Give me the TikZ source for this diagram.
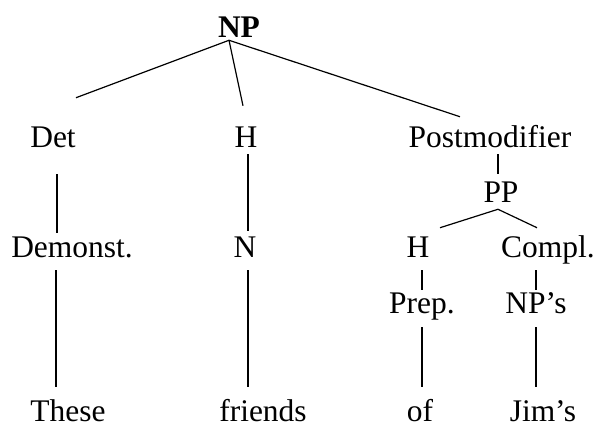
\documentclass[tikz,border=0pt]{standalone}
\usepackage{fontspec}
\setmainfont{Liberation Serif}
\usetikzlibrary{calc}

\tikzset{
  lbl/.style={anchor=base, inner sep=0pt, text height=15.75pt, text depth=5.25pt,
    font=\fontsize{23.6}{28}\selectfont},
  branch/.style={line width=0.9pt}
}

\begin{document}
\begin{tikzpicture}[x=0.75pt,y=-0.75pt]
\useasboundingbox (0,0) rectangle (597,426);
\node[lbl,font=\fontsize{23.6}{28}\selectfont\bfseries] (np) at (239,37) {NP};
\node[lbl] (det) at (53,147) {Det};
\node[lbl] (head) at (246,147) {H};
\node[lbl] (postmod) at (490,147) {Postmodifier};
\node[lbl] (pp) at (501,202) {PP};
\node[lbl] (demonst) at (72,257) {Demonst.};
\node[lbl] (noun) at (245,257) {N};
\node[lbl] (pphead) at (418,257) {H};
\node[lbl] (compl) at (548,257) {Compl.};
\node[lbl] (prep) at (422,313) {Prep.};
\node[lbl] (npposs) at (536,313) {NP’s};
\node[lbl] (these) at (68,421) {These};
\node[lbl] (friends) at (263,421) {friends};
\node[lbl] (of) at (420,421) {of};
\node[lbl] (jims) at (543,421) {Jim’s};
\coordinate (nproot) at ($(np.south)+(-10,-4)$);
\coordinate (pproot) at ($(pp.south)+(-3,0)$);
\draw[branch] (nproot) -- ($(det.north east)+(0,-28)$);
\draw[branch] (nproot) -- ($(head.north)+(-3,-20)$);
\draw[branch] (nproot) -- ($(postmod.north)+(-30,-9)$);
\draw[branch] ($(det.south)+(4,20)$) -- ($(demonst.north)+(-15,-3)$);
\draw[branch] ($(head.south)+(2,0)$) -- ($(noun.north)+(3,-5)$);
\draw[branch] ($(postmod.south)+(8,0)$) -- ($(pp.north)+(-3,-7)$);
\draw[branch] (pproot) -- ($(pphead.north)+(22,-8)$);
\draw[branch] (pproot) -- ($(compl.north)+(-11,-8)$);
\draw[branch] ($(demonst.south)+(-16,6)$) -- ($(these.north)+(-12,-13)$);
\draw[branch] ($(noun.south)+(3,6)$) -- ($(friends.north)+(-15,-13)$);
\draw[branch] ($(pphead.south)+(4,6)$) -- ($(prep.north)+(0,-2)$);
\draw[branch] ($(compl.south)+(-12,6)$) -- ($(npposs.north)+(0,-2)$);
\draw[branch] ($(prep.south)+(0,7)$) -- ($(of.north)+(2,-13)$);
\draw[branch] ($(npposs.south)+(0,7)$) -- ($(jims.north)+(-7,-13)$);
\end{tikzpicture}
\end{document}
